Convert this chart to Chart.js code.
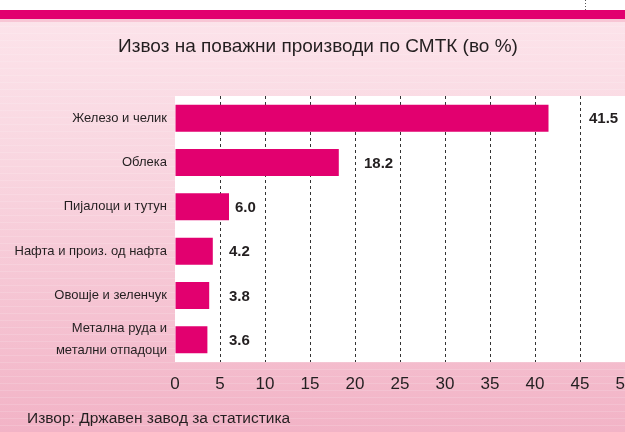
<!DOCTYPE html>
<html>
<head>
<meta charset="utf-8">
<script src="https://cdn.jsdelivr.net/npm/chart.js@4.4.0/dist/chart.umd.min.js"></script>
<style>
  html, body { margin: 0; padding: 0; background: #fff; }
  #wrap { width: 625px; height: 432px; }
</style>
</head>
<body>
<div id="wrap"><canvas id="chart" width="625" height="432"></canvas></div>
<script>
// data
const categories = [
  "Железо и челик",
  "Облека",
  "Пијалоци и тутун",
  "Нафта и произ. од нафта",
  "Овошје и зеленчук",
  ["Метална руда и", "метални отпадоци"]
];
const shares = [41.5, 18.2, 6.0, 4.2, 3.8, 3.6];
const xMin = 0;
const xMax = 50;
const xStep = 5;
const chartTitle = "Извоз на поважни производи по СМТК (во %)";
const sourceNote = "Извор: Државен завод за статистика";

const FONT = "'Liberation Sans', Arial, sans-serif";
const COLORS = {
  bar: "#e2006f",
  strip: "#e2006f",
  text: "#231f20",
  grid: "#333333",
  bgTop: "#fce3ea",
  bgBottom: "#f2b3c6"
};

// background, top strip and white plot panel
const pageBackground = {
  id: "pageBackground",
  beforeDraw(chart) {
    const { ctx, width, height, chartArea } = chart;
    ctx.save();
    ctx.fillStyle = "#ffffff";
    ctx.fillRect(0, 0, width, height);

    const g = ctx.createLinearGradient(0, 20, 0, height);
    g.addColorStop(0, COLORS.bgTop);
    g.addColorStop(0.35, "#f9d6e0");
    g.addColorStop(1, COLORS.bgBottom);
    ctx.fillStyle = g;
    ctx.fillRect(0, 19, width, height - 19);

    // faint horizontal print stripes
    ctx.strokeStyle = "rgba(255,255,255,0.15)";
    ctx.lineWidth = 1;
    for (let y = 26; y < height; y += 7) {
      ctx.beginPath();
      ctx.moveTo(0, y + 0.5);
      ctx.lineTo(width, y + 0.5);
      ctx.stroke();
    }

    ctx.fillStyle = COLORS.strip;
    ctx.fillRect(0, 10, width, 9);
    ctx.fillStyle = "#f8c6d5";
    ctx.fillRect(0, 19, width, 3);

    // little dotted crop mark top right
    ctx.strokeStyle = "#555";
    ctx.setLineDash([1, 2]);
    ctx.beginPath();
    ctx.moveTo(585.5, 0);
    ctx.lineTo(585.5, 10);
    ctx.stroke();
    ctx.setLineDash([]);

    ctx.fillStyle = "#ffffff";
    ctx.fillRect(chartArea.left, chartArea.top, chartArea.right - chartArea.left, chartArea.bottom - chartArea.top);
    ctx.restore();
  }
};

// title, source and value labels
const textLayer = {
  id: "textLayer",
  afterDraw(chart) {
    const { ctx } = chart;
    const xs = chart.scales.x;
    ctx.save();
    ctx.fillStyle = COLORS.text;
    ctx.textBaseline = "middle";

    ctx.font = "19px " + FONT;
    ctx.textAlign = "center";
    ctx.fillText(chartTitle, 318, 47);

    ctx.font = "15.5px " + FONT;
    ctx.textAlign = "left";
    ctx.fillText(sourceNote, 27, 419);

    ctx.font = "bold 15px " + FONT;
    const meta = chart.getDatasetMeta(0);
    meta.data.forEach((bar, i) => {
      const v = shares[i];
      const nextGrid = Math.ceil(v / xStep) * xStep;
      let x;
      if (nextGrid - v > 3.6) {
        x = bar.x + 6;
      } else {
        x = xs.getPixelForValue(nextGrid) + 9;
      }
      ctx.fillText(v.toFixed(1), x, bar.y + 1);
    });
    ctx.restore();
  }
};

new Chart(document.getElementById("chart"), {
  type: "bar",
  data: {
    labels: categories,
    datasets: [{
      data: shares,
      backgroundColor: COLORS.bar,
      borderWidth: 0,
      categoryPercentage: 0.61,
      barPercentage: 1
    }]
  },
  options: {
    indexAxis: "y",
    responsive: false,
    animation: false,
    devicePixelRatio: 1,
    layout: { padding: { top: 96, left: 0, right: 0, bottom: 0 } },
    plugins: {
      legend: { display: false },
      tooltip: { enabled: false },
      title: { display: false }
    },
    scales: {
      x: {
        min: xMin,
        max: xMax,
        ticks: {
          stepSize: xStep,
          padding: 12,
          color: COLORS.text,
          font: { family: FONT, size: 17 }
        },
        grid: {
          drawTicks: false,
          lineWidth: 1,
          color: (c) => (c.tick && (c.tick.value === xMin || c.tick.value === xMax)) ? "rgba(0,0,0,0)" : COLORS.grid
        },
        border: { display: false, dash: [3, 3] },
        afterFit(scale) {
          scale.height = 70;
          scale.paddingLeft = 0;
          scale.paddingRight = 0;
        }
      },
      y: {
        ticks: {
          autoSkip: false,
          padding: 8,
          color: COLORS.text,
          font: { family: FONT, size: 13, lineHeight: 1.7 }
        },
        grid: { display: false, drawTicks: false },
        border: { display: false },
        afterFit(scale) {
          scale.width = 175;
        }
      }
    }
  },
  plugins: [pageBackground, textLayer]
});
</script>
</body>
</html>
